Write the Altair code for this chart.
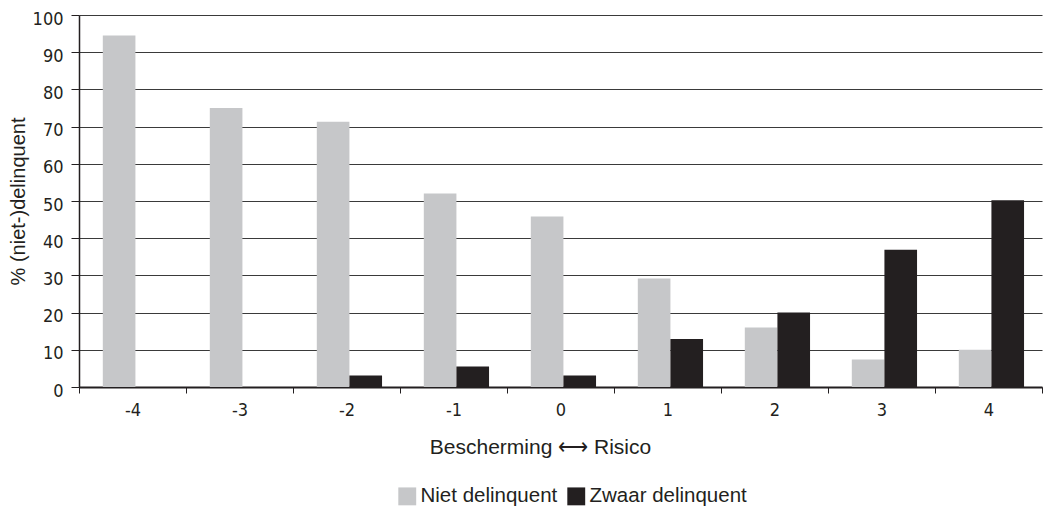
import altair as alt
import pandas as pd

categories = ["-4", "-3", "-2", "-1", "0", "1", "2", "3", "4"]
niet_delinquent = [94.5, 75.0, 71.3, 52.0, 45.8, 29.2, 16.0, 7.4, 10.0]
zwaar_delinquent = [0.0, 0.0, 3.1, 5.5, 3.1, 12.9, 20.0, 36.9, 50.2]
series = ["Niet delinquent", "Zwaar delinquent"]
colors = ["#c6c7c9", "#231f20"]

rows = []
for c, n, z in zip(categories, niet_delinquent, zwaar_delinquent):
    rows.append({"cat": c, "series": series[0], "value": n})
    rows.append({"cat": c, "series": series[1], "value": z})
df = pd.DataFrame(rows)

tick_font = "DejaVu Sans Condensed, Roboto, sans-serif"
text_font = "Liberation Sans, Arial, sans-serif"

chart = alt.Chart(df).mark_bar().encode(
    x=alt.X("cat:N", sort=categories,
            scale=alt.Scale(paddingInner=0, paddingOuter=0),
            axis=alt.Axis(title="Bescherming \u27f7 Risico", labelAngle=0,
                          tickBand="extent", ticks=True, tickSize=6,
                          tickColor="#231f20", domainColor="#231f20",
                          domainWidth=2, labelFont=tick_font, labelFontSize=18,
                          labelColor="#231f20", labelPadding=8,
                          titleFont=text_font, titleFontSize=21,
                          titleFontWeight="normal", titleColor="#231f20",
                          titlePadding=17, titleX=461, titleAlign="center",
                          grid=False)),
    xOffset=alt.XOffset("series:N", sort=series,
                        scale=alt.Scale(paddingInner=0, paddingOuter=0.64, align=0.57)),
    y=alt.Y("value:Q", scale=alt.Scale(domain=[0, 100], nice=False),
            axis=alt.Axis(title="% (niet-)delinquent", values=list(range(0, 101, 10)),
                          tickSize=8, tickColor="#231f20", domainColor="#231f20",
                          domainWidth=1.5, labelFont=tick_font, labelFontSize=18,
                          labelColor="#231f20", labelPadding=8, labelOffset=4,
                          titleFont=text_font, titleFontSize=20,
                          titleFontWeight="normal", titleColor="#231f20",
                          titlePadding=4, grid=True, gridColor="#3a3a3a",
                          gridWidth=1.2)),
    color=alt.Color("series:N", sort=series,
                    scale=alt.Scale(domain=series, range=colors),
                    legend=alt.Legend(title=None, orient="none", direction="horizontal",
                                      legendX=318, legendY=471,
                                      symbolType="square", symbolSize=320,
                                      symbolStrokeWidth=0, symbolOpacity=1,
                                      labelFont=text_font, labelFontSize=20.5,
                                      labelLimit=400,
                                      labelColor="#231f20", columnPadding=8,
                                      labelOffset=3)),
).properties(
    width=963, height=372,
    padding={"top": 2, "left": 0, "right": 2, "bottom": 2},
).configure_view(stroke=None)

chart.save("out.html", embed_options={"renderer": "svg", "actions": False})
